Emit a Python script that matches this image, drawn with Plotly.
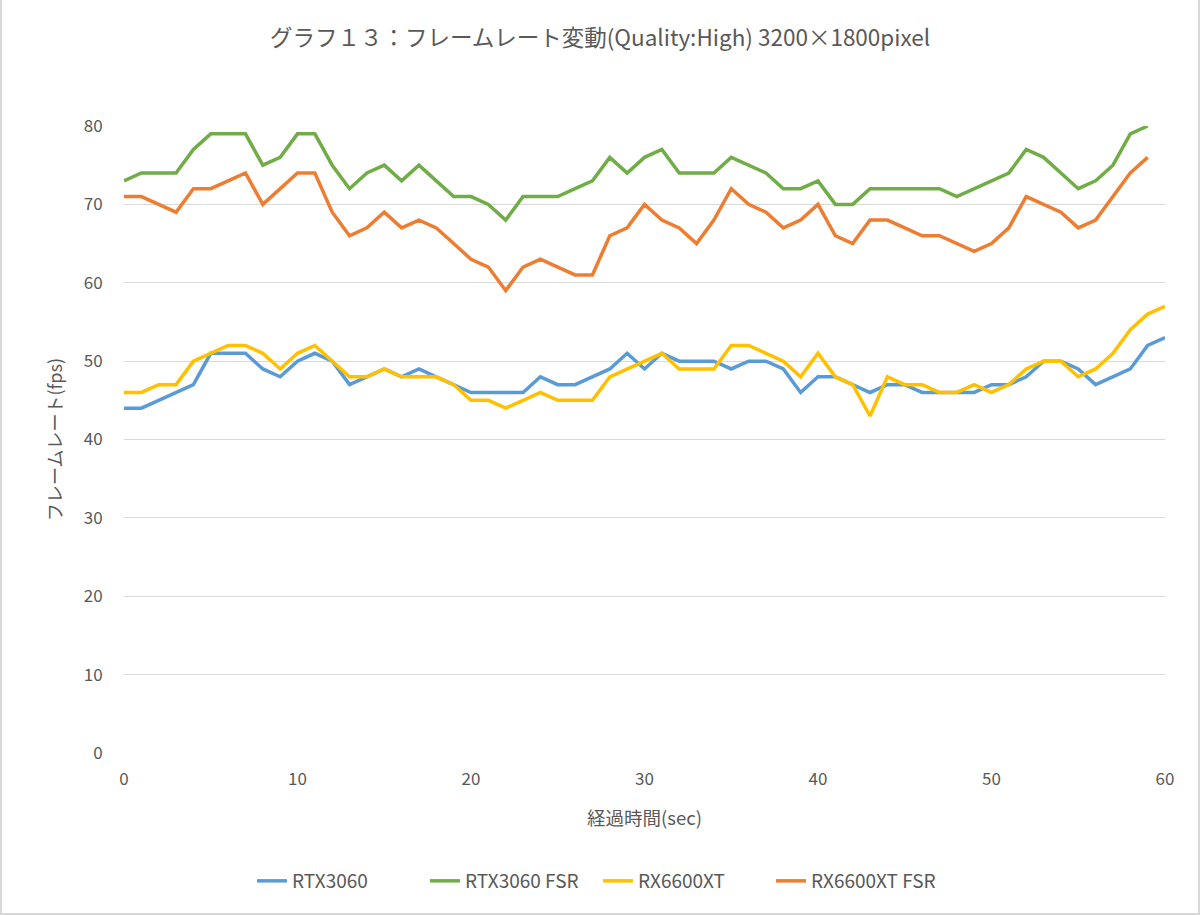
import plotly.graph_objects as go

title_text = "グラフ１３：フレームレート変動(Quality:High) 3200×1800pixel"
x_title = "経過時間(sec)"
y_title = "フレームレート(fps)"

sec_61 = list(range(0, 61))
sec_60 = list(range(0, 60))

rtx3060 = [44, 44, 45, 46, 47, 51, 51, 51, 49, 48, 50, 51, 50, 47, 48, 49, 48, 49, 48, 47,
           46, 46, 46, 46, 48, 47, 47, 48, 49, 51, 49, 51, 50, 50, 50, 49, 50, 50, 49, 46,
           48, 48, 47, 46, 47, 47, 46, 46, 46, 46, 47, 47, 48, 50, 50, 49, 47, 48, 49, 52, 53]
rtx3060_fsr = [73, 74, 74, 74, 77, 79, 79, 79, 75, 76, 79, 79, 75, 72, 74, 75, 73, 75, 73, 71,
               71, 70, 68, 71, 71, 71, 72, 73, 76, 74, 76, 77, 74, 74, 74, 76, 75, 74, 72, 72,
               73, 70, 70, 72, 72, 72, 72, 72, 71, 72, 73, 74, 77, 76, 74, 72, 73, 75, 79, 80]
rx6600xt = [46, 46, 47, 47, 50, 51, 52, 52, 51, 49, 51, 52, 50, 48, 48, 49, 48, 48, 48, 47,
            45, 45, 44, 45, 46, 45, 45, 45, 48, 49, 50, 51, 49, 49, 49, 52, 52, 51, 50, 48,
            51, 48, 47, 43, 48, 47, 47, 46, 46, 47, 46, 47, 49, 50, 50, 48, 49, 51, 54, 56, 57]
rx6600xt_fsr = [71, 71, 70, 69, 72, 72, 73, 74, 70, 72, 74, 74, 69, 66, 67, 69, 67, 68, 67, 65,
                63, 62, 59, 62, 63, 62, 61, 61, 66, 67, 70, 68, 67, 65, 68, 72, 70, 69, 67, 68,
                70, 66, 65, 68, 68, 67, 66, 66, 65, 64, 65, 67, 71, 70, 69, 67, 68, 71, 74, 76]

series = [
    ("RTX3060", sec_61, rtx3060, "#5B9BD5"),
    ("RTX3060 FSR", sec_60, rtx3060_fsr, "#70AD47"),
    ("RX6600XT", sec_61, rx6600xt, "#FFC000"),
    ("RX6600XT FSR", sec_60, rx6600xt_fsr, "#ED7D31"),
]

FONT = "Noto Sans CJK JP, Noto Sans, sans-serif"
GREY = "#595959"

fig = go.Figure()
for name, xs, ys, col in series:
    fig.add_trace(go.Scatter(x=xs, y=ys, name=name, mode="lines",
                             line=dict(color=col, width=3.5), hoverinfo="x+y+name"))

L, R, T, B = 124, 35, 126, 162
W, H = 1200, 915
pw, ph = W - L - R, H - T - B

fig.update_layout(
    width=W, height=H,
    margin=dict(l=L, r=R, t=T, b=B),
    paper_bgcolor="white", plot_bgcolor="white",
    font=dict(family=FONT, color=GREY, size=17),
    title=dict(text=title_text, x=0.5, xanchor="center", y=1 - 38 / H, yanchor="middle",
               font=dict(family=FONT, size=22.5, color=GREY)),
    showlegend=True,
    legend=dict(orientation="h", x=(252 - L) / pw, xanchor="left", y=-(881 - 753) / ph, yanchor="middle",
                font=dict(family=FONT, size=19, color=GREY), itemwidth=30,
                entrywidth=128, entrywidthmode="pixels",
                traceorder="normal"),
    xaxis=dict(range=[0, 60], tickmode="array", tickvals=[0, 10, 20, 30, 40, 50, 60],
               showgrid=False, zeroline=False, showline=False,
               ticks="outside", ticklen=11, tickcolor="rgba(0,0,0,0)",
               tickfont=dict(family=FONT, size=17, color=GREY),
               title=dict(text=x_title, font=dict(family=FONT, size=18.5, color=GREY), standoff=22)),
    yaxis=dict(range=[0, 80], tickmode="array", tickvals=[0, 10, 20, 30, 40, 50, 60, 70, 80],
               showgrid=True, gridcolor="#d9d9d9", gridwidth=1, zeroline=False, showline=False,
               ticks="outside", ticklen=17, tickcolor="rgba(0,0,0,0)",
               tickfont=dict(family=FONT, size=17, color=GREY),
               title=dict(text=y_title, font=dict(family=FONT, size=18, color=GREY), standoff=16)),
)

# outer chart border
fig.add_shape(type="rect", xref="paper", yref="paper",
              x0=-(L - 1) / pw, x1=(W - L - 1) / pw, y0=-(B - 1) / ph, y1=(H - T - 1) / ph,
              line=dict(color="#d9d9d9", width=2), fillcolor="rgba(0,0,0,0)", layer="above")

fig.write_html("out.html", config={"displayModeBar": False},
               post_script="document.body.style.margin='0';document.body.style.overflow='hidden';")
